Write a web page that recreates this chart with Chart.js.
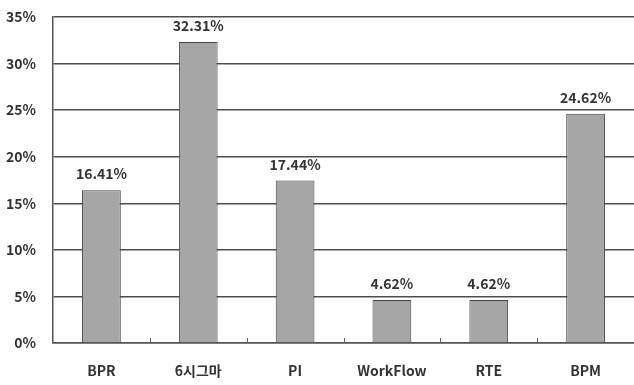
<!DOCTYPE html>
<html>
<head>
<meta charset="utf-8">
<script src="https://cdn.jsdelivr.net/npm/chart.js@4"></script>
<style>
  html, body { margin:0; padding:0; background:#fff; }
  #wrap { width:634px; height:385px; position:relative; }
</style>
</head>
<body>
<div id="wrap"><canvas id="chart"></canvas></div>
<script>
// Category labels and their shares (%)
const categories = ['BPR', '6시그마', 'PI', 'WorkFlow', 'RTE', 'BPM'];
const shares     = [16.41, 32.31, 17.44, 4.62, 4.62, 24.62];
const yTicks     = [0, 5, 10, 15, 20, 25, 30, 35];

const FONT = '"Noto Sans CJK KR", "Noto Sans", sans-serif';

// value labels above each bar
const barLabels = {
    id: 'barLabels',
    afterDatasetsDraw(chart) {
        const ctx = chart.ctx;
        const meta = chart.getDatasetMeta(0);
        ctx.save();
        ctx.font = 'bold 14px ' + FONT;
        ctx.fillStyle = '#333';
        ctx.textAlign = 'center';
        ctx.textBaseline = 'middle';
        meta.data.forEach((bar, i) => {
            ctx.fillText(shares[i].toFixed(2) + '%', bar.x, bar.y - 16);
        });
        ctx.restore();
    }
};

// small inner tick marks between categories on the x axis
const catTicks = {
    id: 'catTicks',
    afterDatasetsDraw(chart) {
        const x = chart.scales.x, ctx = chart.ctx;
        const bottom = chart.chartArea.bottom;
        ctx.save();
        ctx.strokeStyle = '#666';
        ctx.lineWidth = 1;
        for (let i = 1; i < categories.length; i++) {
            const px = Math.round((x.getPixelForTick(i - 1) + x.getPixelForTick(i)) / 2) + 0.5;
            ctx.beginPath();
            ctx.moveTo(px, bottom);
            ctx.lineTo(px, bottom - 5);
            ctx.stroke();
        }
        ctx.restore();
    }
};

new Chart(document.getElementById('chart'), {
    type: 'bar',
    data: {
        labels: categories,
        datasets: [{
            data: shares,
            backgroundColor: '#a6a6a6',
            borderColor: '#444',
            borderWidth: 1,
            categoryPercentage: 1,
            barPercentage: 0.4
        }]
    },
    options: {
        responsive: true,
        maintainAspectRatio: false,
        animation: false,
        layout: { padding: { top: 17, right: 0, left: 0, bottom: 0 } },
        plugins: { legend: { display: false }, tooltip: { enabled: false } },
        scales: {
            x: {
                grid: { display: false, drawTicks: false },
                border: { display: true, color: '#555', width: 1.5 },
                ticks: { color: '#333', padding: 19, font: { family: FONT, size: 14, weight: 'bold' } },
                afterFit(scale) { scale.height = 42; scale.paddingLeft = 0; scale.paddingRight = 0; }
            },
            y: {
                min: 0, max: 35,
                afterBuildTicks(scale) { scale.ticks = yTicks.map(v => ({ value: v })); },
                grid: { color: '#4d4d4d', lineWidth: 1.4, drawTicks: false },
                border: { display: true, color: '#555', width: 1.5 },
                ticks: {
                    color: '#333', padding: 17,
                    font: { family: FONT, size: 14, weight: 'bold' },
                    callback: v => v + '%'
                },
                afterFit(scale) { scale.width = 53; scale.paddingTop = 0; scale.paddingBottom = 0; }
            }
        }
    },
    plugins: [barLabels, catTicks]
});
</script>
</body>
</html>
